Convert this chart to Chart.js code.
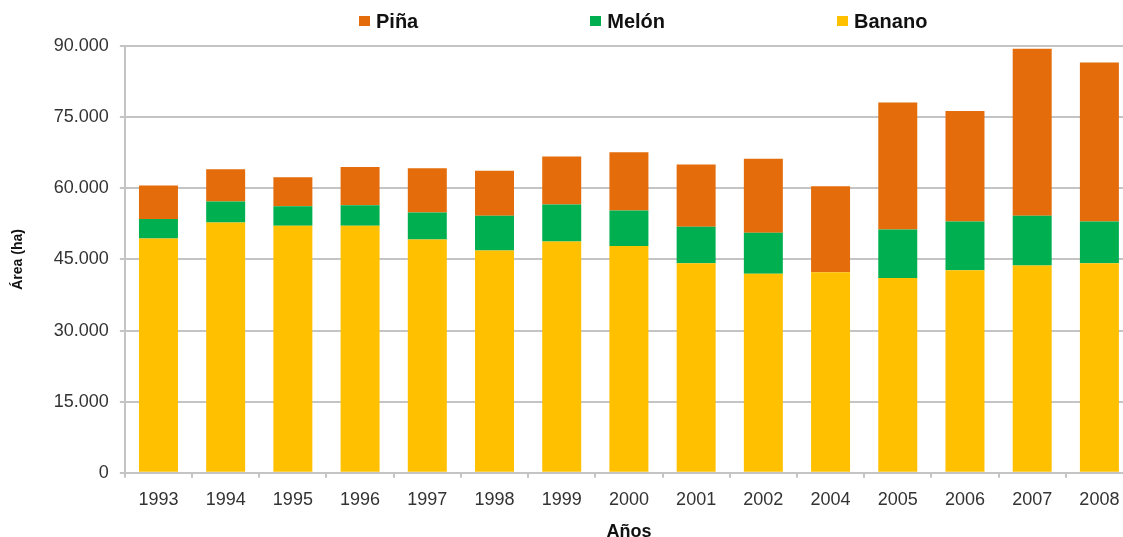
<!DOCTYPE html>
<html lang="es">
<head>
<meta charset="utf-8">
<title>Área cultivada</title>
<script src="https://cdn.jsdelivr.net/npm/chart.js@4/dist/chart.umd.min.js"></script>
<style>
  html, body {
    margin: 0;
    padding: 0;
    background: #fff;
    overflow: hidden;
  }
  .chart {
    position: absolute;
    left: 0;
    top: 0;
    width: 1145px;
    height: 548px;
  }
  .chart-legend {
    position: absolute;
    left: 359px;
    top: 9px;
    display: flex;
    gap: 172px;
    font-family: "Liberation Sans", Arial, sans-serif;
    font-weight: bold;
    font-size: 20px;
    line-height: 24px;
    color: #111;
  }
  .chart-legend .item {
    display: flex;
    align-items: center;
  }
  .chart-legend .box {
    width: 11px;
    height: 10px;
    margin-right: 6px;
  }
</style>
</head>
<body>
<div class="chart">
  <canvas></canvas>
  <div class="chart-legend"></div>
</div>
<script>
const years = ["1993", "1994", "1995", "1996", "1997", "1998", "1999", "2000",
  "2001", "2002", "2004", "2005", "2006", "2007", "2008"]

// hectáreas por cultivo
const banano = [49400, 52800, 52100, 52100, 49200, 46900, 48800, 47800,
  44200, 42000, 42300, 41100, 42700, 43700, 44200]
const melon = [4100, 4400, 4100, 4300, 5700, 7300, 7800, 7500,
  7700, 8600, 0, 10200, 10300, 10500, 8800]
const pina = [7100, 6800, 6100, 8100, 9300, 9500, 10100, 12300,
  13100, 15600, 18100, 26800, 23300, 35200, 33500]

const yTicks = [0, 15000, 30000, 45000, 60000, 75000, 90000]

const COLORS = {
  banano: "#FFC000",
  melon: "#00B050",
  pina: "#E46C0A",
}
const GRID = "#c4c4c4"
const FONT = "'Liberation Sans', Arial, sans-serif"

// legend in html, Piña first like the stack top
const htmlLegendPlugin = {
  id: "htmlLegend",
  afterUpdate(chart, args, options) {
    const box = options.container
    if (!box) return
    box.innerHTML = ""
    const items = chart.options.plugins.legend.labels.generateLabels(chart)
    items.reverse().forEach((item) => {
      const el = document.createElement("div")
      el.className = "item"
      const mark = document.createElement("span")
      mark.className = "box"
      mark.style.background = item.fillStyle
      const text = document.createElement("span")
      text.textContent = item.text
      el.appendChild(mark)
      el.appendChild(text)
      box.appendChild(el)
    })
  },
}

const formatHa = (v) => (v === 0 ? "0" : v.toLocaleString("de-DE"))

const createChartStack = (ctx, legendContainer) => {
  const data = {
    labels: years,
    datasets: [
      { label: "Banano", data: banano, backgroundColor: COLORS.banano },
      { label: "Melón", data: melon, backgroundColor: COLORS.melon },
      { label: "Piña", data: pina, backgroundColor: COLORS.pina },
    ].map((ds) => ({
      ...ds,
      borderWidth: 0,
      barPercentage: 0.58,
      categoryPercentage: 1,
    })),
  }

  const options = {
    responsive: true,
    maintainAspectRatio: false,
    animation: false,
    layout: {
      padding: { top: 46, right: 12, bottom: 0, left: 0 },
    },
    plugins: {
      htmlLegend: { container: legendContainer },
      legend: { display: false },
      tooltip: { enabled: false },
    },
    scales: {
      x: {
        stacked: true,
        offset: true,
        grid: {
          offset: true,
          drawOnChartArea: false,
          drawTicks: true,
          tickLength: 5,
          color: GRID,
          lineWidth: 2,
        },
        border: { color: GRID, width: 2 },
        ticks: {
          color: "#333",
          padding: 11,
          maxRotation: 0,
          font: { family: FONT, size: 18 },
        },
        title: {
          display: true,
          text: "Años",
          color: "#111",
          font: { family: FONT, size: 18, weight: "bold" },
          padding: { top: 0, bottom: 5 },
        },
      },
      y: {
        stacked: true,
        min: 0,
        max: 90000,
        afterBuildTicks: (scale) => {
          scale.ticks = yTicks.map((value) => ({ value }))
        },
        grid: {
          color: GRID,
          lineWidth: 2,
          drawTicks: true,
          tickLength: 5,
        },
        border: { color: GRID, width: 2 },
        ticks: {
          color: "#333",
          padding: 11,
          font: { family: FONT, size: 18 },
          callback: (value) => formatHa(value),
        },
        title: {
          display: true,
          text: "Área (ha)",
          color: "#111",
          font: { family: FONT, size: 14, weight: "bold" },
          padding: { top: 10, bottom: 16 },
        },
      },
    },
  }

  return new Chart(ctx, {
    type: "bar",
    data: data,
    options: options,
    plugins: [htmlLegendPlugin],
  })
}

document.addEventListener("DOMContentLoaded", () => {
  const chart = document.querySelector(".chart")
  const canvas = chart.querySelector("canvas")
  createChartStack(canvas.getContext("2d"), chart.querySelector(".chart-legend"))
})
</script>
</body>
</html>
